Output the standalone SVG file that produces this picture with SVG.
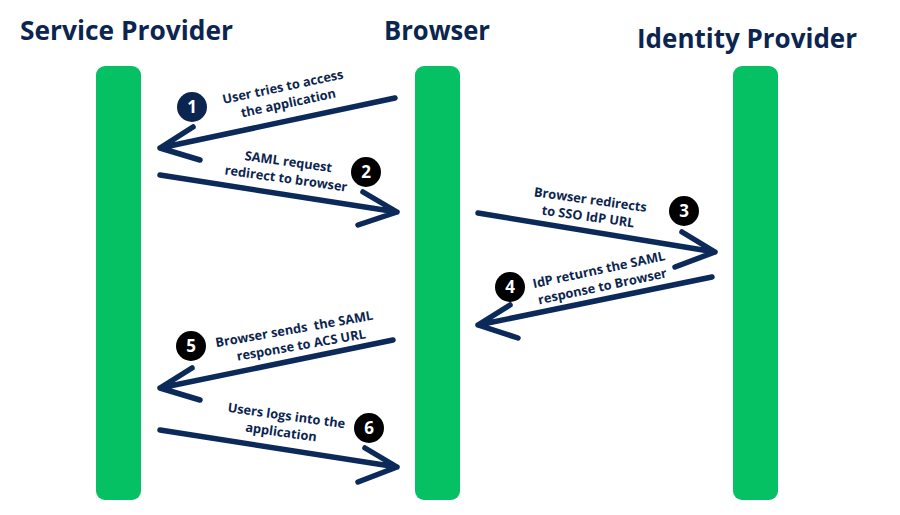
<svg xmlns="http://www.w3.org/2000/svg" width="900" height="515" viewBox="0 0 900 515">
<style>
.title{font-family:"Open Sans","Liberation Sans",sans-serif;font-weight:700;font-size:26px;fill:#0b2550}
.bar{fill:#06c064}
.lbl{font-family:"Open Sans","Liberation Sans",sans-serif;font-weight:700;font-size:12.8px;fill:#0b2550;text-anchor:middle}
.arr{fill:none;stroke:#0b2a5a;stroke-width:5.5;stroke-linecap:round;stroke-linejoin:round}
.num{font-family:"Open Sans","Liberation Sans",sans-serif;font-weight:700;font-size:17px;fill:#fff;text-anchor:middle}
</style>
<rect width="900" height="515" fill="#fff"/>
<g id="service-provider">
<text class="title" x="20" y="40" textLength="213" lengthAdjust="spacingAndGlyphs">Service Provider</text>
<rect class="bar" x="96" y="66" width="45" height="434" rx="9"/>
</g>
<g id="browser">
<text class="title" x="384" y="40" textLength="106" lengthAdjust="spacingAndGlyphs">Browser</text>
<rect class="bar" x="415" y="66" width="45" height="434" rx="9"/>
</g>
<g id="identity-provider">
<text class="title" x="637" y="48" textLength="220" lengthAdjust="spacingAndGlyphs">Identity Provider</text>
<rect class="bar" x="733" y="66" width="45" height="434" rx="9"/>
</g>
<g id="connectors">
<path class="arr" d="M395 98 L160 148 M193 127 L160 148 L200 160"/>
<path class="arr" d="M160 175 L397 212 M363 192 L397 212 L358 225"/>
<path class="arr" d="M478 213 L715 252 M682 232 L715 252 L675 267"/>
<path class="arr" d="M712 277 L478 325 M510 305 L478 325 L518 338"/>
<path class="arr" d="M393 340 L160 388 M192 368 L160 388 L200 400"/>
<path class="arr" d="M160 430 L397 467 M365 448 L397 467 L358 482"/>
</g>
<g id="step1">
<circle cx="192" cy="107" r="15" fill="#0b2550"/>
<text class="num" x="192" y="113">1</text>
<g transform="rotate(-12 285 97)">
<text class="lbl" x="285" y="91">User tries to access</text>
<text class="lbl" x="287" y="108">the application</text>
</g>
</g>
<g id="step2">
<circle cx="366" cy="172" r="15" fill="#000"/>
<text class="num" x="366" y="178">2</text>
<g transform="rotate(8 287 172)">
<text class="lbl" x="287" y="166">SAML request</text>
<text class="lbl" x="287" y="183">redirect to browser</text>
</g>
</g>
<g id="step3">
<circle cx="684" cy="211" r="15" fill="#000"/>
<text class="num" x="684" y="217">3</text>
<g transform="rotate(8 589 210)">
<text class="lbl" x="589" y="204">Browser redirects</text>
<text class="lbl" x="589" y="221">to SSO IdP URL</text>
</g>
</g>
<g id="step4">
<circle cx="510" cy="287" r="15" fill="#000"/>
<text class="num" x="510" y="293">4</text>
<g transform="rotate(-12 601 280)">
<text class="lbl" x="601" y="274">IdP returns the SAML</text>
<text class="lbl" x="601" y="291">response to Browser</text>
</g>
</g>
<g id="step5">
<circle cx="191" cy="346" r="15" fill="#000"/>
<text class="num" x="191" y="352">5</text>
<g transform="rotate(-10 298 339)">
<text class="lbl" x="296" y="333" xml:space="preserve">Browser sends  the SAML</text>
<text class="lbl" x="300" y="350">response to ACS URL</text>
</g>
</g>
<g id="step6">
<circle cx="369" cy="428" r="15" fill="#000"/>
<text class="num" x="369" y="434">6</text>
<g transform="rotate(8 285 426)">
<text class="lbl" x="285" y="420">Users logs into the</text>
<text class="lbl" x="282" y="437">application</text>
</g>
</g>
</svg>
